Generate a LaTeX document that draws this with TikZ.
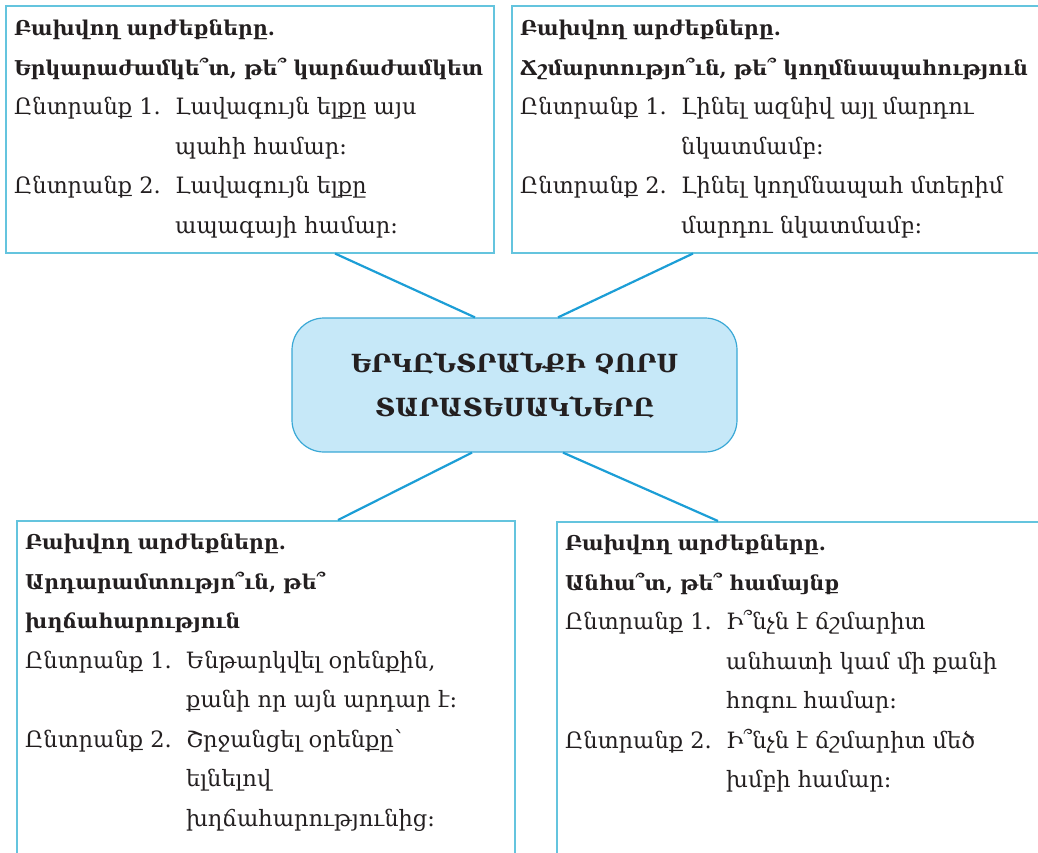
\documentclass[tikz,border=0pt]{standalone}
\usepackage{fontspec}
\setmainfont{DejaVu Serif}
\usetikzlibrary{positioning,calc}

\definecolor{boxline}{RGB}{100,196,222}
\definecolor{linkline}{RGB}{28,158,214}
\definecolor{hubfill}{RGB}{198,232,248}
\definecolor{hubline}{RGB}{58,168,214}
\definecolor{inktext}{RGB}{35,31,32}

\newlength\choicew
\setlength\choicew{161pt}
\newcommand\choice[1]{\makebox[\choicew][l]{Ընտրանք #1.}}
\newcommand\cont{\hspace*{\choicew}}
\newcommand\vtitle[1]{{\fontsize{20.4}{39.5}\selectfont\bfseries #1}}

\begin{document}
\begin{tikzpicture}[x=1pt,y=-1pt]
\tikzstyle{value box}=[rectangle, draw=boxline, line width=1.5pt, anchor=north west, inner sep=0pt]
\tikzstyle{value text}=[anchor=north west, align=left, inner sep=0pt, text=inktext, font=\fontsize{22.5}{39.5}\selectfont]
\tikzstyle{hub}=[rectangle, rounded corners=32pt, draw=hubline, fill=hubfill, line width=1.2pt, minimum width=445pt, minimum height=134pt, align=center, text=inktext, font=\fontsize{25}{44}\selectfont\bfseries]
\tikzstyle{link}=[linkline, line width=2.2pt]

\useasboundingbox (0,0) rectangle (1038,852);
\clip (0,0) rectangle (1038,852);

% the four boxes of values
\node[value box, minimum width=488pt, minimum height=247pt] (lt) at (5,5) {};
\node[value box, minimum width=540pt, minimum height=247pt] (rt) at (511,5) {};
\node[value box, minimum width=498pt, minimum height=360pt] (lb) at (16,520) {};
\node[value box, minimum width=500pt, minimum height=360pt] (rb) at (556,521) {};

% the hub in the middle
\node[hub] (hub) at (514.5,385) {ԵՐԿԸՆՏՐԱՆՔԻ ՉՈՐՍ\\ՏԱՐԱՏԵՍԱԿՆԵՐԸ};

% links
\draw[link] ($(lt.south west)+(330,0)$) -- ($(hub.north)+(-39.5,0)$);
\draw[link] ($(rt.south west)+(182,0)$) -- ($(hub.north)+(43.5,0)$);
\draw[link] ($(hub.south)+(-42.5,0)$) -- ($(lb.north west)+(322,0)$);
\draw[link] ($(hub.south)+(48.5,0)$) -- ($(rb.north west)+(162,0)$);

% texts
\node[value text] (ltt) at ([shift={(9,15)}]lt.north west) {%
\vtitle{Բախվող արժեքները.}\\
\vtitle{Երկարաժամկե՞տ, թե՞ կարճաժամկետ}\\
\choice{1}Լավագույն ելքը այս\\
\cont պահի համար։\\
\choice{2}Լավագույն ելքը\\
\cont ապագայի համար։};

\node[value text] (rtt) at ([shift={(9,15)}]rt.north west) {%
\vtitle{Բախվող արժեքները.}\\
\vtitle{Ճշմարտությո՞ւն, թե՞ կողմնապահություն}\\
\choice{1}Լինել ազնիվ այլ մարդու\\
\cont նկատմամբ։\\
\choice{2}Լինել կողմնապահ մտերիմ\\
\cont մարդու նկատմամբ։};

\node[value text] (lbt) at ([shift={(9,14)}]lb.north west) {%
\vtitle{Բախվող արժեքները.}\\
\vtitle{Արդարամտությո՞ւն, թե՞}\\
\vtitle{խղճահարություն}\\
\choice{1}Ենթարկվել օրենքին,\\
\cont քանի որ այն արդար է։\\
\choice{2}Շրջանցել օրենքը՝\\
\cont ելնելով\\
\cont խղճահարությունից։};

\node[value text] (rbt) at ([shift={(9,14)}]rb.north west) {%
\vtitle{Բախվող արժեքները.}\\
\vtitle{Անհա՞տ, թե՞ համայնք}\\
\choice{1}Ի՞նչն է ճշմարիտ\\
\cont անհատի կամ մի քանի\\
\cont հոգու համար։\\
\choice{2}Ի՞նչն է ճշմարիտ մեծ\\
\cont խմբի համար։};
\end{tikzpicture}
\end{document}
